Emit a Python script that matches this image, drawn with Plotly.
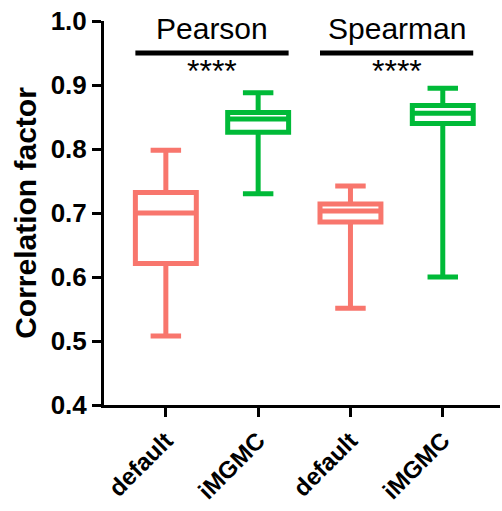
import plotly.graph_objects as go

categories = ["default", "iMGMC", "default", "iMGMC"]
groups = ["Pearson", "Spearman"]
lower_whisker = [0.508, 0.730, 0.551, 0.600]
q1 = [0.621, 0.826, 0.686, 0.840]
median = [0.700, 0.847, 0.703, 0.856]
q3 = [0.732, 0.857, 0.714, 0.868]
upper_whisker = [0.798, 0.888, 0.742, 0.895]
colors = ["#F8766D", "#00BA38", "#F8766D", "#00BA38"]
y_ticks = [0.4, 0.5, 0.6, 0.7, 0.8, 0.9, 1.0]

fig = go.Figure()
for i in range(len(categories)):
    fig.add_trace(go.Box(
        x=[i], q1=[q1[i]], median=[median[i]], q3=[q3[i]],
        lowerfence=[lower_whisker[i]], upperfence=[upper_whisker[i]],
        line=dict(color=colors[i], width=5), fillcolor="white",
        width=0.66, whiskerwidth=0.5, boxpoints=False, showlegend=False,
        hoverinfo="skip",
    ))

# significance bars
for gi, g in enumerate(groups):
    x0 = 2 * gi - 0.33
    x1 = 2 * gi + 1.33
    fig.add_shape(type="line", x0=x0, x1=x1, y0=0.95, y1=0.95, xref="x", yref="y",
                  line=dict(color="black", width=5))
    fig.add_annotation(x=2 * gi + 0.5, y=0.988, text=g, showarrow=False,
                       font=dict(family="Liberation Sans, Arial", size=30, color="black"),
                       yanchor="middle")
    fig.add_annotation(x=2 * gi + 0.5, y=0.922, text="****", showarrow=False,
                       font=dict(family="Liberation Sans, Arial", size=32, color="black"),
                       yanchor="middle")

fig.update_layout(
    width=502, height=511,
    margin=dict(l=104, r=2, t=21, b=106),
    plot_bgcolor="white", paper_bgcolor="white",
    font=dict(family="Liberation Sans, Arial", color="black"),
)
fig.update_xaxes(
    tickmode="array", tickvals=list(range(len(categories))),
    ticktext=["<b>%s</b>" % c for c in categories],
    range=[-0.67, 3.62], tickangle=-45, automargin=False, ticklabeloverflow="allow",
    showline=True, linecolor="black", linewidth=3,
    ticks="outside", ticklen=9, tickwidth=3, tickcolor="black",
    tickfont=dict(size=24, color="black"), showgrid=False, zeroline=False,
)
fig.update_yaxes(
    range=[0.4, 1.0], tickmode="array", tickvals=y_ticks, automargin=False,
    ticklabeloverflow="allow",
    ticktext=["<b>%.1f</b>" % v for v in y_ticks],
    showline=True, linecolor="black", linewidth=3,
    ticks="outside", ticklen=9, tickwidth=3, tickcolor="black",
    tickfont=dict(size=26, color="black"), showgrid=False, zeroline=False,
    title=dict(text="<b>Correlation factor</b>", font=dict(size=30, color="black"), standoff=6),
)
fig.write_html("out.html", config={"displayModeBar": False},
               post_script="document.body.style.margin='0';")
